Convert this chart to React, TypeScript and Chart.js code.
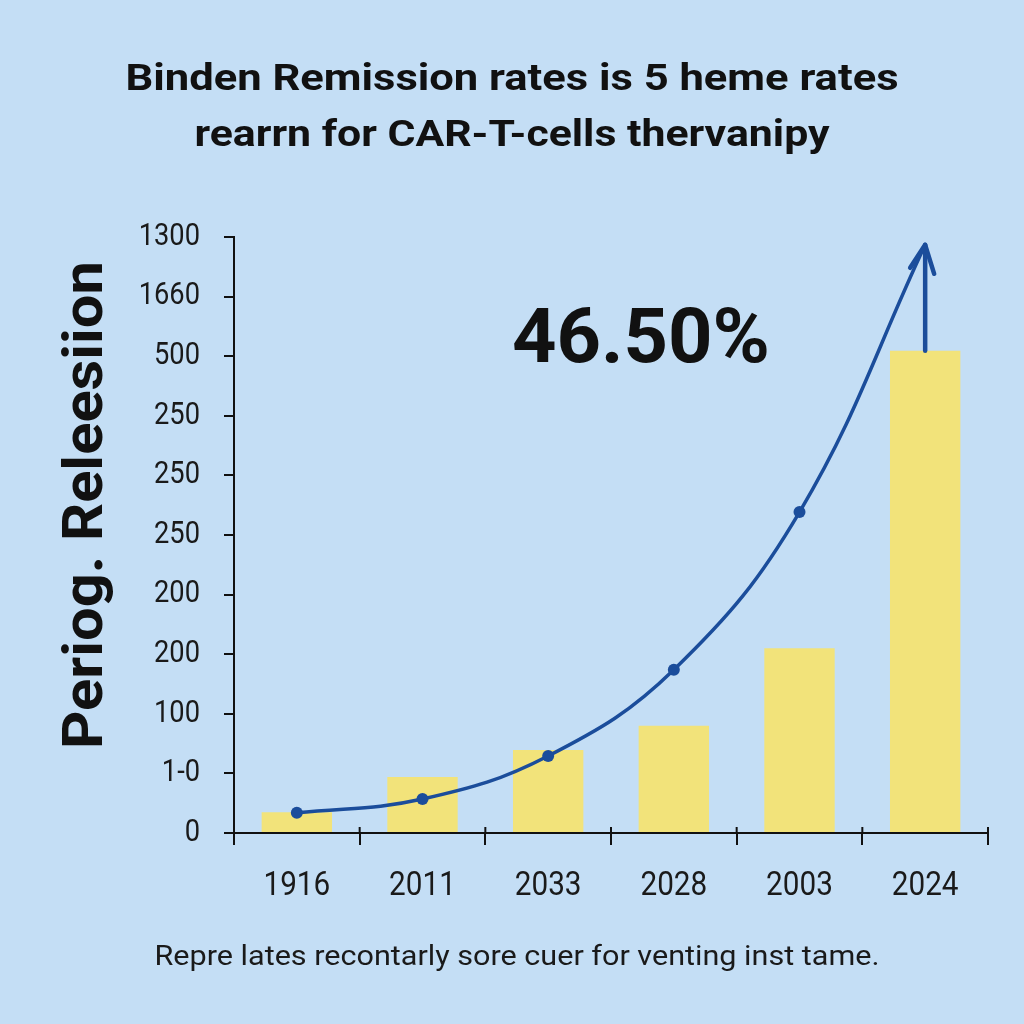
import React, { useEffect, useRef } from "react";
import { Chart, registerables } from "chart.js";

Chart.register(...registerables);

const titleLines = ["Binden Remission rates is 5 heme rates", "rearrn for CAR-T-cells thervanipy"];
const yAxisTitle = "Periog. Releesiion";
const footerText = "Repre lates recontarly sore cuer for venting inst tame.";
const bigLabel = "46.50%";
const categories = ["1916", "2011", "2033", "2028", "2003", "2024"];
const barValues = [45, 122, 181, 234, 403, 1052];
const lineValues = [44, 74, 168, 356, 700, 1283];
const yTickLabels = ["0", "1-0", "100", "200", "200", "250", "250", "250", "500", "1660", "1300"];

const BG = "#C4DEF5";
const BAR = "#F2E37A";
const LINE = "#1B4D9B";
const INK = "#111111";
const FONT = "Roboto, 'Liberation Sans', Arial, sans-serif";

function fitText(ctx: any, text: string, cx: number, cy: number, width: number) {
  const w = ctx.measureText(text).width;
  const sx = width / w;
  ctx.save();
  ctx.translate(cx, cy);
  ctx.scale(sx, 1);
  ctx.fillText(text, 0, 0);
  ctx.restore();
}

const decorPlugin = {
  id: "decor",
  afterDatasetsDraw(chart: any) {
    const ctx = chart.ctx;
    const lineMeta = chart.getDatasetMeta(1);
    const barMeta = chart.getDatasetMeta(0);
    const last = lineMeta.data[lineMeta.data.length - 1];
    const lastBar = barMeta.data[barMeta.data.length - 1];
    ctx.save();
    ctx.strokeStyle = LINE;
    ctx.lineWidth = 4.5;
    ctx.lineCap = "round";
    ctx.lineJoin = "round";
    ctx.beginPath();
    ctx.moveTo(last.x, lastBar.y);
    ctx.lineTo(last.x, last.y);
    ctx.stroke();
    ctx.beginPath();
    ctx.moveTo(last.x - 15, last.y + 23);
    ctx.lineTo(last.x, last.y);
    ctx.lineTo(last.x + 9, last.y + 29);
    ctx.stroke();
    ctx.restore();

    const xs = chart.scales.x;
    const ys = chart.scales.y;
    const n = categories.length;
    ctx.save();
    ctx.strokeStyle = INK;
    ctx.lineWidth = 2;
    for (let i = 0; i <= n; i++) {
      const x = xs.left + (i * xs.width) / n;
      ctx.beginPath();
      ctx.moveTo(x, xs.top - 6);
      ctx.lineTo(x, xs.top);
      ctx.stroke();
    }
    ctx.fillStyle = "#1a1a1a";
    ctx.textAlign = "center";
    ctx.textBaseline = "middle";
    ctx.font = `33px ${FONT}`;
    categories.forEach((c, i) => {
      const x = xs.getPixelForValue(i);
      ctx.save();
      ctx.translate(x, xs.top + 54);
      ctx.scale(0.9, 1);
      ctx.fillText(c, 0, 0);
      ctx.restore();
    });
    ctx.textAlign = "right";
    ctx.font = `31px ${FONT}`;
    ys.ticks.forEach((t: any, i: number) => {
      const y = ys.getPixelForValue(t.value);
      ctx.save();
      ctx.translate(200, y);
      ctx.scale(0.88, 1);
      ctx.fillText(yTickLabels[i], 0, 0);
      ctx.restore();
    });
    ctx.restore();
  },
  afterDraw(chart: any) {
    const ctx = chart.ctx;
    ctx.save();
    ctx.fillStyle = INK;
    ctx.textAlign = "center";
    ctx.textBaseline = "middle";
    ctx.font = `bold 37px ${FONT}`;
    fitText(ctx, titleLines[0], 512, 81, 773);
    fitText(ctx, titleLines[1], 512, 137, 635);

    ctx.font = `bold 76px ${FONT}`;
    fitText(ctx, bigLabel, 641, 343, 258);

    ctx.font = `28px ${FONT}`;
    ctx.fillStyle = "#1a1a1a";
    fitText(ctx, footerText, 517, 958, 725);

    ctx.fillStyle = INK;
    ctx.translate(88, 505);
    ctx.rotate(-Math.PI / 2);
    ctx.font = `bold 56px ${FONT}`;
    fitText(ctx, yAxisTitle, 0, 0, 488);
    ctx.restore();
  },
};

export default function App() {
  const ref = useRef<HTMLCanvasElement | null>(null);
  useEffect(() => {
    if (!ref.current) return;
    const chart = new Chart(ref.current, {
      type: "bar",
      data: {
        labels: categories,
        datasets: [
          {
            type: "bar",
            data: barValues,
            backgroundColor: BAR,
            borderWidth: 0,
            categoryPercentage: 1,
            barPercentage: 0.56,
            order: 2,
          },
          {
            type: "line",
            data: lineValues,
            borderColor: LINE,
            backgroundColor: LINE,
            borderWidth: 3.5,
            tension: 0.4,
            pointRadius: [6, 6, 6, 6, 6, 0],
            pointBackgroundColor: LINE,
            pointBorderWidth: 0,
            order: 1,
          } as any,
        ],
      },
      options: {
        responsive: false,
        animation: false,
        layout: { padding: { top: 237, left: 50, right: 36, bottom: 91 } },
        plugins: { legend: { display: false }, tooltip: { enabled: false }, title: { display: false } },
        scales: {
          x: {
            offset: true,
            grid: { offset: true, drawOnChartArea: false, drawTicks: true, tickLength: 12, color: INK, lineWidth: 2 },
            border: { color: INK, width: 2 },
            ticks: { display: false },
            afterFit: (s: any) => {
              s.height = 100;
            },
          },
          y: {
            min: 0,
            max: 1300,
            grid: { drawOnChartArea: false, drawTicks: true, tickLength: 10, color: INK, lineWidth: 2 },
            border: { color: INK, width: 2 },
            ticks: { stepSize: 130, display: false },
            afterFit: (s: any) => {
              s.width = 184;
            },
          },
        },
      },
      plugins: [decorPlugin],
    });
    return () => chart.destroy();
  }, []);
  return (
    <div style={{ position: "absolute", left: 0, top: 0, width: 1024, height: 1024, background: BG }}>
      <canvas ref={ref} width={1024} height={1024} />
    </div>
  );
}
